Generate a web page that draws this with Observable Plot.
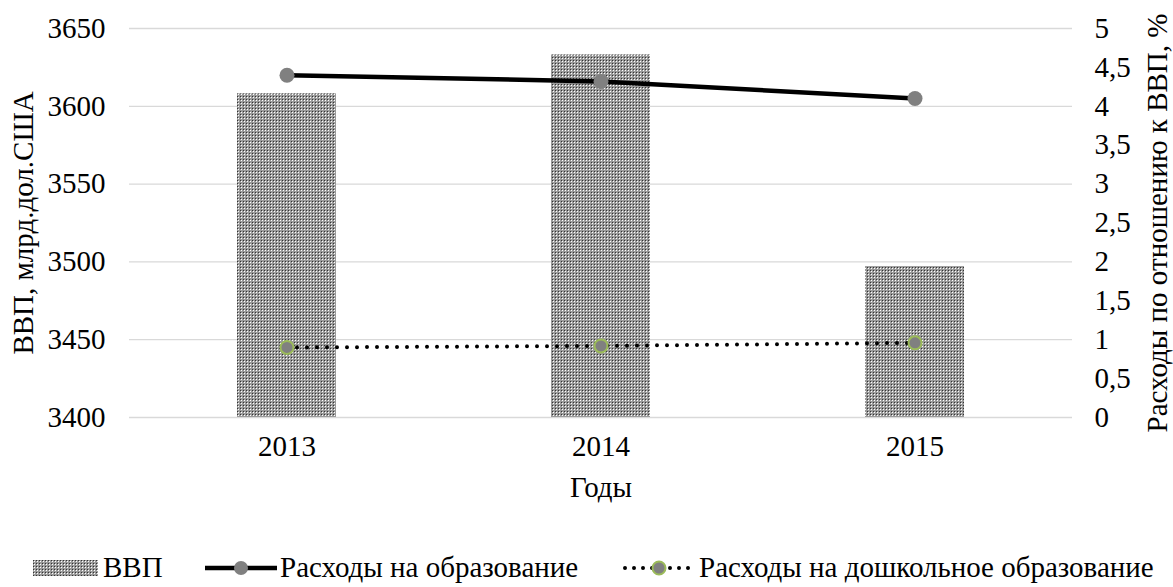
<!DOCTYPE html>
<html>
<head>
<meta charset="utf-8">
<script src="https://cdn.jsdelivr.net/npm/d3@7"></script>
<script src="https://cdn.jsdelivr.net/npm/@observablehq/plot@0.6"></script>
<style>
  html, body { margin: 0; padding: 0; background: #fff; }
  #chart { width: 1173px; }
  #chart svg text { font-family: "Liberation Serif", "Times New Roman", "DejaVu Serif", serif !important; }
  .legend { position: relative; width: 1173px; height: 39px;
            font-family: "Liberation Serif", "Times New Roman", "DejaVu Serif", serif; font-size: 29px; color: #000; }
  .legend .sw { position: absolute; top: 0; }
  .legend .lab { position: absolute; top: 0; line-height: 39px; white-space: nowrap; }
</style>
</head>
<body>
<div id="chart"></div>
<script>
// ---- data ----
const years = ["2013", "2014", "2015"];
const gdp = [3608, 3633, 3497];            // ВВП, млрд.дол.США (left axis)
const eduShare = [4.4, 4.32, 4.1];         // Расходы на образование, % ВВП (right axis)
const preschoolShare = [0.9, 0.92, 0.96];  // Расходы на дошкольное образование, % ВВП
const leftTicks = [3400, 3450, 3500, 3550, 3600, 3650];
const rightTicks = [0, 0.5, 1, 1.5, 2, 2.5, 3, 3.5, 4, 4.5, 5];
const seriesNames = ["ВВП", "Расходы на образование", "Расходы на дошкольное образование"];
const leftTitle = "ВВП, млрд.дол.США";
const rightTitle = "Расходы по отношению к ВВП, %";
const xTitle = "Годы";

// ---- map right-axis values onto the left scale ----
const yMin = leftTicks[0], yMax = leftTicks[leftTicks.length - 1];
const rMin = rightTicks[0], rMax = rightTicks[rightTicks.length - 1];
const toLeft = v => yMin + (v - rMin) * (yMax - yMin) / (rMax - rMin);
const toRight = v => rMin + (v - yMin) * (rMax - rMin) / (yMax - yMin);

const rows = years.map((y, i) => ({year: y, gdp: gdp[i], edu: toLeft(eduShare[i]), pre: toLeft(preschoolShare[i])}));
const fmt = v => String(+v.toFixed(2)).replace(".", ",");

const W = 1173, H = 548;
const FS = 29;

const plot = Plot.plot({
  width: W, height: H,
  marginLeft: 129, marginRight: 101, marginTop: 28, marginBottom: 131,
  style: {fontFamily: "Liberation Serif, serif", fontSize: FS + "px", color: "#000", background: "#fff"},
  x: {type: "band", domain: years, paddingInner: 0.685, paddingOuter: 0.3425},
  y: {domain: [yMin, yMax]},
  marks: [
    Plot.gridY(leftTicks, {stroke: "#d9d9d9", strokeOpacity: 1, strokeWidth: 1.3}),
    Plot.barY(rows, {x: "year", y1: () => yMin, y2: "gdp", fill: "url(#dotsPat)"}),
    Plot.lineY(rows, {x: "year", y: "edu", stroke: "#000", strokeWidth: 4.5}),
    Plot.dot(rows, {x: "year", y: "edu", r: 7.5, fill: "#808080", stroke: "none"}),
    Plot.lineY(rows, {x: "year", y: "pre", stroke: "#000", strokeWidth: 4, strokeDasharray: "0,10", strokeLinecap: "round"}),
    Plot.dot(rows, {x: "year", y: "pre", r: 6.5, fill: "#808080", stroke: "#9bbb59", strokeWidth: 2}),
    Plot.axisY(leftTicks, {anchor: "left", tickSize: 0, tickPadding: 24, label: null, fontSize: FS, tickFormat: d => String(d)}),
    Plot.axisY(rightTicks.map(toLeft), {anchor: "right", tickSize: 0, tickPadding: 22, label: null, fontSize: FS,
      tickFormat: v => fmt(toRight(v))}),
    Plot.axisX({tickSize: 0, tickPadding: 18, label: null, fontSize: FS}),
    Plot.text([leftTitle], {frameAnchor: "left", dx: -106, rotate: -90, textAnchor: "middle", fontSize: FS, fill: "#000"}),
    Plot.text([rightTitle], {frameAnchor: "right", dx: 85, rotate: -90, textAnchor: "middle", fontSize: FS, fill: "#000"}),
    Plot.text([xTitle], {frameAnchor: "bottom", dy: 79, fontSize: FS, fill: "#000"})
  ]
});

// halftone pattern for the bars
const svgNS = "http://www.w3.org/2000/svg";
const defs = document.createElementNS(svgNS, "defs");
defs.innerHTML = `<pattern id="dotsPat" width="3" height="3" patternUnits="userSpaceOnUse">
    <rect width="3" height="3" fill="#9a9a9a"/>
    <rect x="1" y="1" width="1" height="1" fill="#ffffff"/>
    <rect x="0" y="0" width="1" height="1" fill="#333333"/>
  </pattern>`;
plot.insertBefore(defs, plot.firstChild);
document.getElementById("chart").appendChild(plot);

// ---- legend below the chart ----
const legend = d3.select("body").append("div").attr("class", "legend");
function item(left, swW, drawSwatch, labLeft, label) {
  const s = legend.append("svg").attr("class", "sw").style("left", left + "px").attr("width", swW).attr("height", 39);
  drawSwatch(s, swW);
  legend.append("div").attr("class", "lab").style("left", labLeft + "px").text(label);
}
item(33, 65, (s, w) => s.append("rect").attr("x", 0).attr("y", 12).attr("width", w).attr("height", 16).attr("fill", "url(#dotsPat)"), 103, seriesNames[0]);
item(205, 72, (s, w) => {
  s.append("line").attr("x1", 0).attr("x2", w).attr("y1", 20).attr("y2", 20).attr("stroke", "#000").attr("stroke-width", 4.5);
  s.append("circle").attr("cx", w / 2).attr("cy", 20).attr("r", 7).attr("fill", "#808080");
}, 280, seriesNames[1]);
item(622, 74, (s, w) => {
  s.append("line").attr("x1", 3).attr("x2", w - 2).attr("y1", 20).attr("y2", 20).attr("stroke", "#000").attr("stroke-width", 4)
    .attr("stroke-dasharray", "0,9").attr("stroke-linecap", "round");
  s.append("circle").attr("cx", w / 2).attr("cy", 20).attr("r", 6.5).attr("fill", "#808080").attr("stroke", "#9bbb59").attr("stroke-width", 2);
}, 699, seriesNames[2]);
</script>
</body>
</html>
